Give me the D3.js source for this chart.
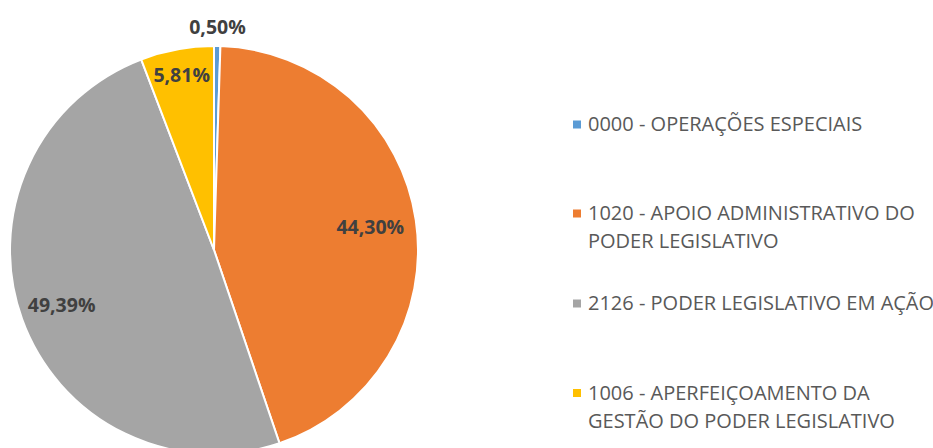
<!DOCTYPE html>
<html><head><meta charset="utf-8">
<script src="https://cdn.jsdelivr.net/npm/d3@7"></script>
<style>body{margin:0;background:#fff}svg{display:block}</style>
</head><body>
<svg id="chart" width="933" height="448"></svg>
<script>
const categories = ["0000 - OPERAÇÕES ESPECIAIS","1020 - APOIO ADMINISTRATIVO DO PODER LEGISLATIVO","2126 - PODER LEGISLATIVO EM AÇÃO","1006 - APERFEIÇOAMENTO DA GESTÃO DO PODER LEGISLATIVO"];
const legendLines = [["0000 - OPERAÇÕES ESPECIAIS"],["1020 - APOIO ADMINISTRATIVO DO","PODER LEGISLATIVO"],["2126 - PODER LEGISLATIVO EM AÇÃO"],["1006 - APERFEIÇOAMENTO DA","GESTÃO DO PODER LEGISLATIVO"]];
const values = [0.50, 44.30, 49.39, 5.81];
const valueLabels = ["0,50%","44,30%","49,39%","5,81%"];
const colors = ["#5B9BD5","#ED7D31","#A5A5A5","#FFC000"];

const svg = d3.select("#chart");
const cx = 214, cy = 250, R = 204;
const font = "'Segoe UI','Open Sans',sans-serif";
const pie = d3.pie().sort(null).value(d => d)(values);
const arc = d3.arc().innerRadius(0).outerRadius(R);
const g = svg.append("g").attr("transform", `translate(${cx},${cy})`);
g.selectAll("path").data(pie).join("path")
  .attr("d", arc).attr("fill", (d,i) => colors[i])
  .attr("stroke", "#fff").attr("stroke-width", 2);

const lblFs = 19.5;
const labelR = [223, 158, 162, 178];
const pos = (d,i) => d3.arc().innerRadius(labelR[i]).outerRadius(labelR[i]).centroid(d);
g.selectAll("text.lbl").data(pie).join("text").attr("class","lbl")
  .attr("x", (d,i) => pos(d,i)[0])
  .attr("y", (d,i) => pos(d,i)[1] + 0.357*lblFs)
  .attr("text-anchor","middle")
  .attr("font-family", font).attr("font-weight","bold").attr("font-size", lblFs)
  .attr("fill","#404040").text((d,i) => valueLabels[i]);

const legFs = 20;
const legY = [124, 213, 303, 392.5];
const leg = svg.append("g");
legendLines.forEach((lines, i) => {
  leg.append("rect").attr("x", 573).attr("y", legY[i]-3.5).attr("width", 8).attr("height", 8).attr("fill", colors[i]);
  lines.forEach((t, j) => {
    leg.append("text").attr("x", 588).attr("y", legY[i] + j*28 + 0.357*legFs)
      .attr("font-family", font)
      .attr("font-size", legFs).attr("fill","#595959").text(t);
  });
});
</script>
</body></html>
